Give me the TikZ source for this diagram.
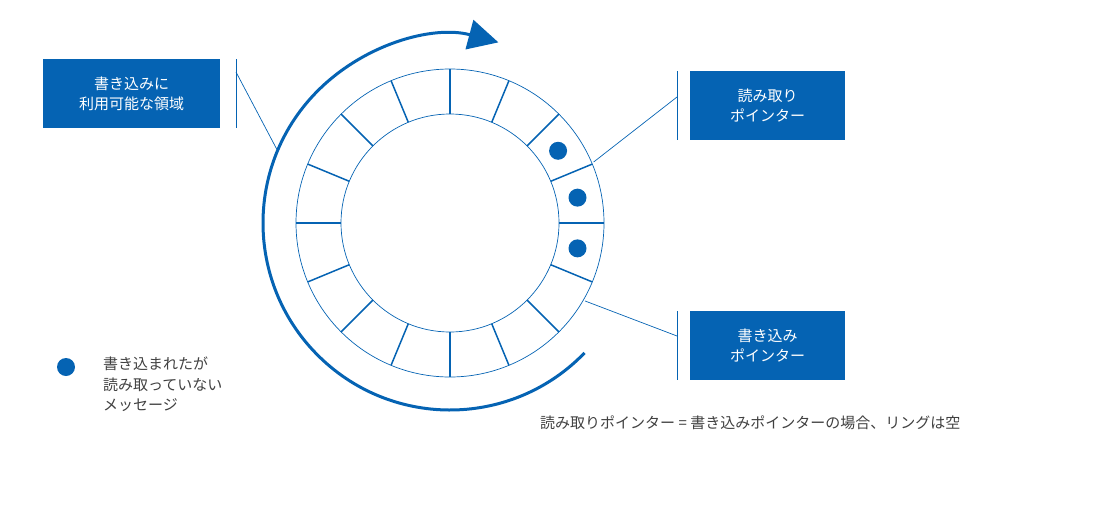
\documentclass[tikz,border=0pt]{standalone}
\usepackage{fontspec}
\setmainfont{Noto Sans CJK JP}
\usetikzlibrary{calc,arrows.meta}
\definecolor{mblue}{HTML}{0563B3}
\definecolor{tgray}{HTML}{404040}
\begin{document}
\begin{tikzpicture}[x=1pt,y=-1pt,
  lbox/.style={fill=mblue,text=white,align=center,font=\fontsize{15}{20}\selectfont,inner sep=0},
  lead/.style={draw=mblue,line width=0.7pt},
  dotm/.style={circle,fill=mblue,minimum size=18pt,inner sep=0},
  gtext/.style={text=tgray,font=\fontsize{15}{20}\selectfont,inner sep=0}]
\useasboundingbox (0,0) rectangle (1108,509);
\begin{scope}[shift={(450,223)},yscale=-1]
\draw[mblue,line width=0.7pt] (0,0) circle[radius=154];
\draw[mblue,line width=0.7pt] (0,0) circle[radius=109];
\foreach \a in {0,22.5,...,337.5}
  \draw[mblue,line width=1.5pt] (\a:109) -- (\a:154);
\node[dotm] (d1) at (33.75:130) {};
\node[dotm] (d2) at (11.25:130) {};
\node[dotm] (d3) at (-11.25:130) {};
\draw[mblue,line width=3pt,-{Triangle[length=30pt,width=30pt]}] (-44:187) arc[start angle=-44,end angle=-285,radius=187];
\coordinate (la) at (157:188);
\coordinate (lr) at (23:156);
\coordinate (lw) at (-30:156);
\end{scope}
% boxes
\node[lbox,minimum width=177pt,minimum height=69pt] (bw) at (131.5,93.5) {書き込みに\\利用可能な領域};
\node[lbox,minimum width=155pt,minimum height=69pt] (br) at (767.5,105.5) {読み取り\\ポインター};
\node[lbox,minimum width=155pt,minimum height=69pt] (bp) at (767.5,345.5) {書き込み\\ポインター};
% bars and leaders
\coordinate (v1a) at (236,59); \coordinate (v1b) at (236,128);
\draw[lead] (v1a) -- (v1b);
\coordinate (v2a) at (677,71); \coordinate (v2b) at (677,140);
\draw[lead] (v2a) -- (v2b);
\coordinate (v3a) at (677,311); \coordinate (v3b) at (677,380);
\draw[lead] (v3a) -- (v3b);
\coordinate (e1) at (236,72); \draw[lead] (e1) -- (la);
\coordinate (e2) at (677,97); \draw[lead] (e2) -- (lr);
\coordinate (e3) at (677,336); \draw[lead] (e3) -- (lw);
% legend
\node[dotm] (ld) at (66,367) {};
\node[gtext,anchor=north west,align=left,font=\fontsize{15}{20.5}\selectfont] (lt) at (103,357) {書き込まれたが\\読み取っていない\\メッセージ};
\node[gtext,anchor=west] (note) at (540,423) {読み取りポインター = 書き込みポインターの場合、リングは空};
\end{tikzpicture}
\end{document}
